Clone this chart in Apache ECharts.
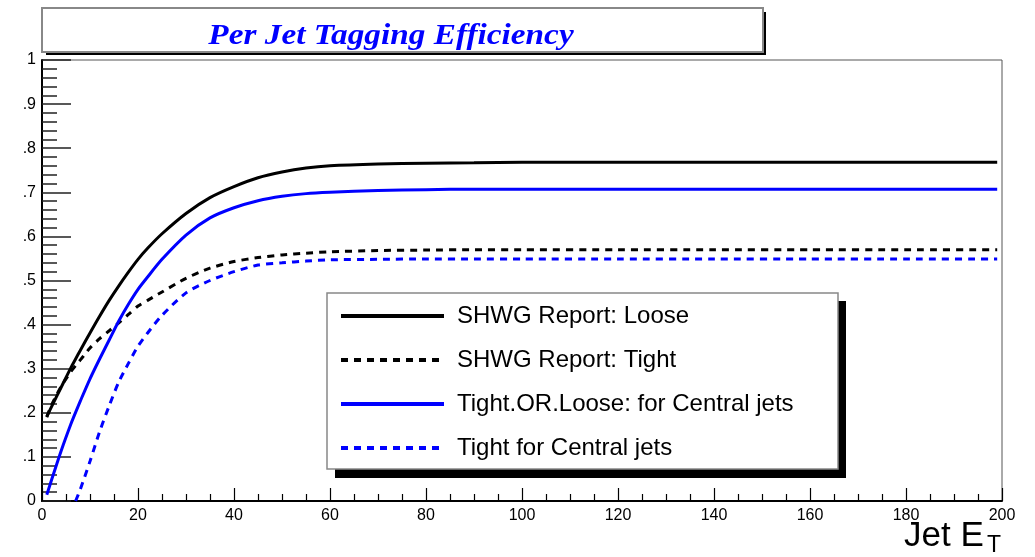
<!DOCTYPE html>
<html>
<head>
<meta charset="utf-8">
<script src="https://cdn.jsdelivr.net/npm/echarts@6/dist/echarts.min.js"></script>
<style>
html,body{margin:0;padding:0;background:#fff;}
#chart{width:1035px;height:557px;}
</style>
</head>
<body>
<div id="chart"></div>
<script>
// ---- data ----
const chartTitle = 'Per Jet Tagging Efficiency';
const seriesNames = ['SHWG Report: Loose', 'SHWG Report: Tight', 'Tight.OR.Loose: for Central jets', 'Tight for Central jets'];
const jetEt = [1, 2, 4, 6, 7, 8, 10, 12, 14, 16, 18, 20, 22, 25, 30, 35, 40, 45, 50, 55, 60, 70, 80, 90, 100, 120, 140, 160, 180, 199];
const shwgLoose = [0.192, 0.214, 0.258, 0.302, 0.322, 0.342, 0.381, 0.419, 0.455, 0.488, 0.519, 0.548, 0.573, 0.606, 0.652, 0.688, 0.713, 0.733, 0.746, 0.755, 0.760, 0.764, 0.766, 0.767, 0.768, 0.768, 0.768, 0.768, 0.768, 0.768];
const shwgTight = [0.190, 0.218, 0.260, 0.293, 0.307, 0.320, 0.347, 0.368, 0.386, 0.404, 0.423, 0.442, 0.455, 0.474, 0.505, 0.528, 0.543, 0.552, 0.558, 0.562, 0.565, 0.568, 0.569, 0.570, 0.570, 0.570, 0.570, 0.570, 0.570, 0.570];
const tightOrLooseCentral = [0.014, 0.048, 0.114, 0.174, 0.201, 0.227, 0.277, 0.322, 0.365, 0.408, 0.446, 0.480, 0.508, 0.548, 0.603, 0.642, 0.665, 0.681, 0.691, 0.697, 0.700, 0.704, 0.706, 0.707, 0.707, 0.707, 0.707, 0.707, 0.707, 0.707];
const tightCentral = [null, null, null, null, 0.000, 0.027, 0.090, 0.157, 0.216, 0.270, 0.312, 0.351, 0.381, 0.421, 0.472, 0.500, 0.520, 0.535, 0.540, 0.544, 0.547, 0.548, 0.549, 0.549, 0.549, 0.549, 0.549, 0.549, 0.549, 0.549];
const xTitleMain = 'Jet E';
const xTitleSub = 'T';

const pairs = (ys) => jetEt.map((x, i) => [x, ys[i]]);

const chart = echarts.init(document.getElementById('chart'), null, {renderer: 'canvas'});
const sans = 'Liberation Sans, Arial, Helvetica, sans-serif';
const dash = [7, 6];

function lineSeries(name, ys, color, type) {
  return {
    name: name,
    type: 'line',
    data: pairs(ys),
    smooth: 0.25,
    symbol: 'none',
    connectNulls: false,
    lineStyle: {color: color, width: 3, type: type},
    itemStyle: {color: color},
    z: 5
  };
}

chart.setOption({
  animation: false,
  backgroundColor: '#ffffff',
  grid: {left: 42, right: 33, top: 60, bottom: 56, show: true, borderColor: '#555', borderWidth: 1, backgroundColor: 'transparent'},
  xAxis: {
    type: 'value', min: 0, max: 200, interval: 20,
    axisLine: {show: true, onZero: false, lineStyle: {color: '#000', width: 2}},
    axisTick: {show: true, inside: true, length: 13, lineStyle: {color: '#000', width: 1.2}},
    minorTick: {show: true, splitNumber: 4, length: 7, lineStyle: {color: '#000', width: 1.2}},
    axisLabel: {color: '#000', fontFamily: sans, fontSize: 16, margin: 7},
    splitLine: {show: false}, minorSplitLine: {show: false}
  },
  yAxis: {
    type: 'value', min: 0, max: 1, interval: 0.1,
    axisLine: {show: true, onZero: false, lineStyle: {color: '#000', width: 2}},
    axisTick: {show: true, inside: true, length: 29, lineStyle: {color: '#222', width: 1.5}},
    minorTick: {show: true, splitNumber: 5, length: 15, lineStyle: {color: '#222', width: 1.5}},
    axisLabel: {
      color: '#000', fontFamily: sans, fontSize: 16, margin: 6,
      formatter: function (v) {
        if (Math.abs(v) < 1e-9) return '0';
        if (Math.abs(v - 1) < 1e-9) return '1';
        return '.' + Math.round(v * 10);
      }
    },
    splitLine: {show: false}, minorSplitLine: {show: false}
  },
  legend: {
    orient: 'vertical', left: 339, top: 304, padding: 0,
    data: seriesNames,
    itemWidth: 103, itemHeight: 20, itemGap: 20,
    itemStyle: {opacity: 0},
    lineStyle: {width: 4},
    textStyle: {color: '#000', fontFamily: sans, fontSize: 24, lineHeight: 20, height: 20, padding: [0, 0, 0, 8]},
    selectedMode: false,
    z: 30
  },
  graphic: [
    {type: 'rect', shape: {x: 46, y: 12, width: 720, height: 43}, style: {fill: '#000'}, z: 10, silent: true},
    {type: 'rect', shape: {x: 42, y: 8, width: 721, height: 44}, style: {fill: '#fff', stroke: '#888', lineWidth: 2}, z: 11, silent: true},
    {type: 'text', x: 391, y: 36, scaleX: 1.11, style: {text: chartTitle, fill: '#0000ff', font: 'italic bold 30px "Liberation Serif", "Times New Roman", serif', textAlign: 'center', textVerticalAlign: 'middle'}, z: 12, silent: true},
    {type: 'rect', shape: {x: 335, y: 301, width: 511, height: 177}, style: {fill: '#000'}, z: 10, silent: true},
    {type: 'rect', shape: {x: 327, y: 293, width: 511, height: 176}, style: {fill: '#fff', stroke: '#888', lineWidth: 1.5}, z: 11, silent: true},
    {type: 'text', x: 904, y: 536, style: {text: xTitleMain, fill: '#000', font: '35px "Liberation Sans", Arial, sans-serif', textVerticalAlign: 'middle'}, z: 12, silent: true},
    {type: 'text', x: 987, y: 546, style: {text: xTitleSub, fill: '#000', font: '23px "Liberation Sans", Arial, sans-serif', textVerticalAlign: 'middle'}, z: 12, silent: true}
  ],
  series: [
    lineSeries(seriesNames[0], shwgLoose, '#000000', 'solid'),
    lineSeries(seriesNames[1], shwgTight, '#000000', dash),
    lineSeries(seriesNames[2], tightOrLooseCentral, '#0000ff', 'solid'),
    lineSeries(seriesNames[3], tightCentral, '#0000ff', dash)
  ]
});
</script>
</body>
</html>
